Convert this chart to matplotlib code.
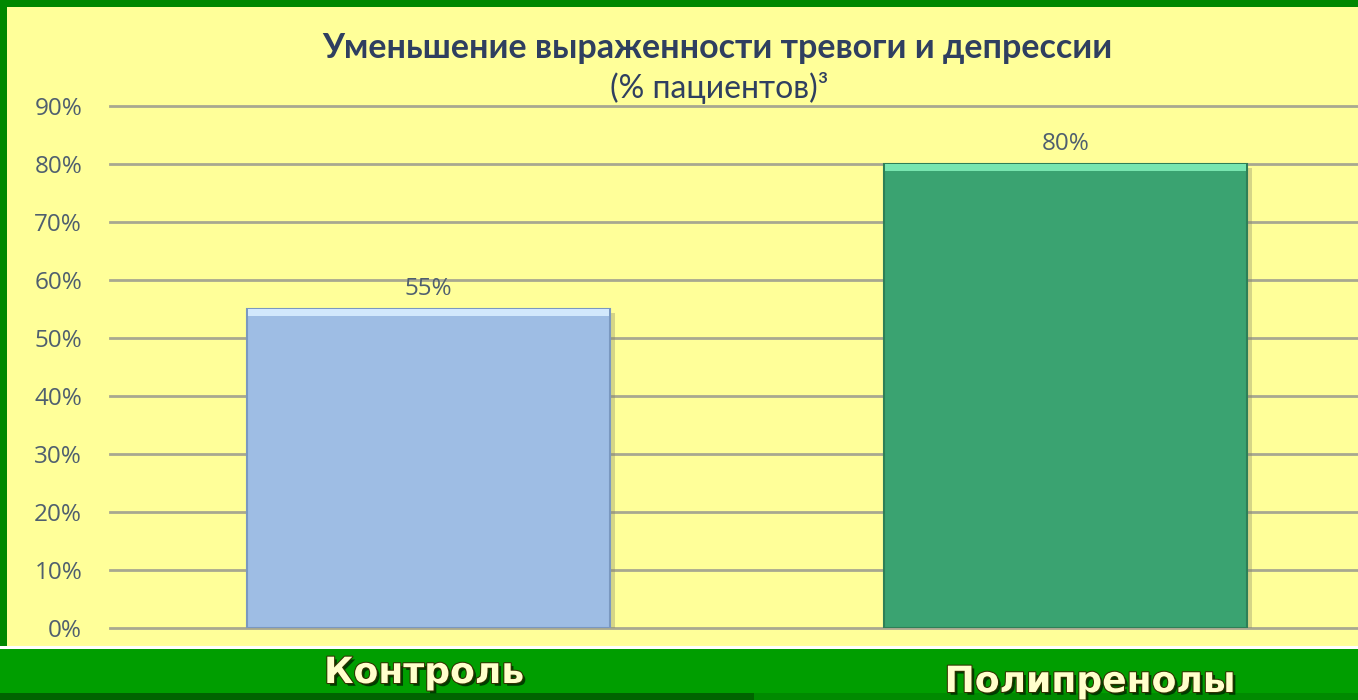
import matplotlib
matplotlib.use("Agg")
import matplotlib.pyplot as plt
import matplotlib.patheffects as pe
from matplotlib.patches import Rectangle
import numpy as np

categories = ["Контроль", "Полипренолы"]
values = [0.55, 0.80]
value_labels = ["55%", "80%"]
yticks = [0.0, 0.1, 0.2, 0.3, 0.4, 0.5, 0.6, 0.7, 0.8, 0.9]
ytick_labels = ["0%", "10%", "20%", "30%", "40%", "50%", "60%", "70%", "80%", "90%"]
title = "Уменьшение выраженности тревоги и депрессии"
subtitle = "(% пациентов)³"

W, H = 1358, 700
fig = plt.figure(figsize=(W / 100, H / 100), dpi=100)

def frect(x0, y0, x1, y1, color):
    # pixel coords from top-left
    fig.patches.append(Rectangle((x0 / W, 1 - y1 / H), (x1 - x0) / W, (y1 - y0) / H,
                                 transform=fig.transFigure, facecolor=color,
                                 edgecolor="none", zorder=-10))

frect(0, 0, W, H, "#008800")
frect(7, 7, W, 646, "#FFFF99")
frect(0, 646, W, 649, "#FFFFFF")
frect(0, 649, W, 693, "#009E00")
frect(0, 693, 754, H, "#006400")
frect(754, 693, W, H, "#008A00")

ax = fig.add_axes([110 / W, (H - 628) / H, 1274 / W, 522 / H], zorder=5)
ax.patch.set_visible(False)
for s in ax.spines.values():
    s.set_visible(False)

x = np.arange(len(categories))
ax.set_xlim(-0.5, 1.5)
ax.set_ylim(0, 0.9)
ax.set_yticks(yticks)
ax.set_yticklabels(ytick_labels, fontsize=17.5, color="#4F5F6F", family="Open Sans")
ax.tick_params(axis="y", length=0, pad=20)
ax.set_xticks([])
ax.yaxis.grid(True, color="#A8A890", linewidth=2, clip_on=False)
ax.set_axisbelow(True)

face = ["#9EBDE4", "#3AA371"]
edge = ["#7A98C0", "#2E7F57"]
light = ["#D2E8FC", "#78E6B0"]
bw = 0.571
ax.bar(x, values, width=bw, color=face, edgecolor=edge, linewidth=1.5, zorder=3,
       path_effects=[pe.SimplePatchShadow(offset=(3, -3), shadow_rgbFace="#888866", alpha=0.35), pe.Normal()])
band = 0.012
ax.bar(x, [band] * len(values), bottom=[v - band for v in values], width=bw * 0.99,
       color=light, edgecolor="none", zorder=4)

for xi, v, lab in zip(x, values, value_labels):
    ax.annotate(lab, (xi, v), xytext=(0, 6), textcoords="offset points",
                ha="center", va="bottom", fontsize=17.5, color="#4F5F6F", family="Open Sans")

fig.text(717 / W, 1 - 48 / H, title, ha="center", va="center", fontsize=24.5,
         fontweight="bold", color="#2F3F60", family="Lato")
fig.text(719 / W, 1 - 88 / H, subtitle, ha="center", va="center", fontsize=23,
         color="#2F3F60", family="Lato")

label_pos = [(424, 673), (1090, 682)]
for (px, py), c in zip(label_pos, categories):
    fig.text(px / W, 1 - py / H, c, ha="center", va="center", fontsize=26,
             fontweight="heavy", color="#FFFFCC", family="DejaVu Sans",
             path_effects=[pe.withSimplePatchShadow(offset=(2, -2), shadow_rgbFace="#003300", alpha=0.9),
                           pe.withStroke(linewidth=1.5, foreground="#333300")])

fig.savefig("out.png", dpi=100)
